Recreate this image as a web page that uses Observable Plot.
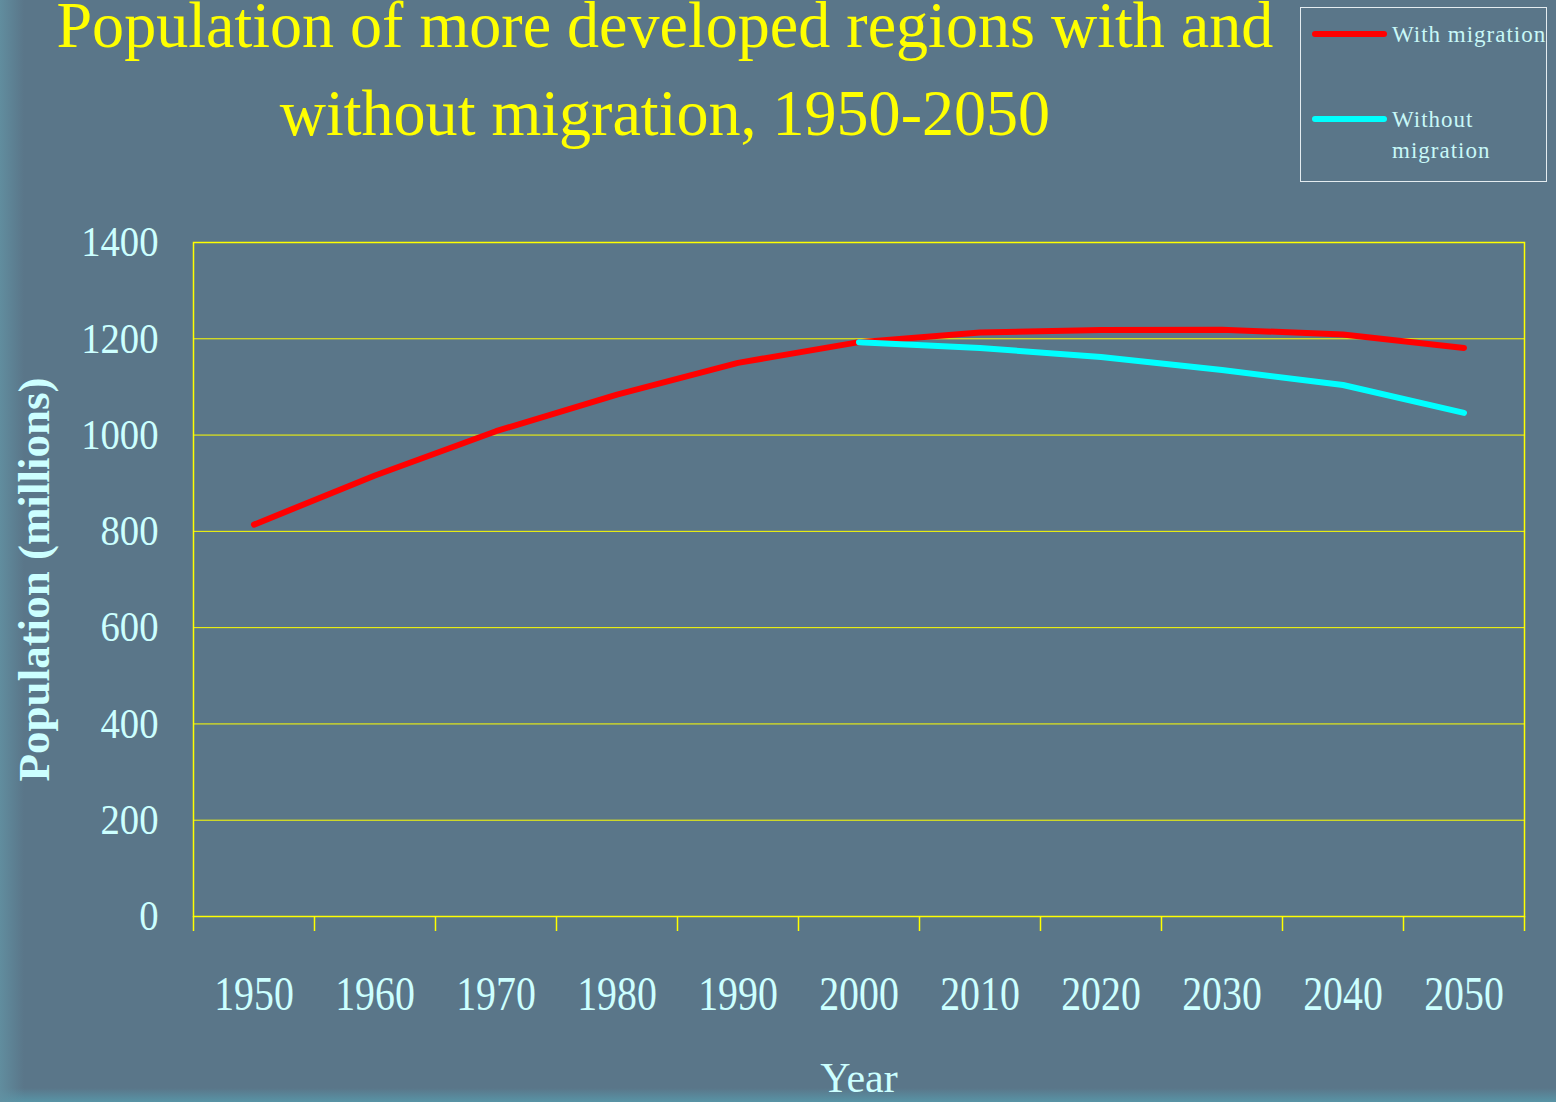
<!DOCTYPE html>
<html><head><meta charset="utf-8">
<script src="https://cdn.jsdelivr.net/npm/d3@7"></script>
<script src="https://cdn.jsdelivr.net/npm/@observablehq/plot@0.6"></script>
<style>
html,body{margin:0;padding:0;}
body{width:1556px;height:1102px;overflow:hidden;position:relative;background:#5a7689;font-family:"Liberation Serif","Times New Roman",serif;}
#bg{position:absolute;left:0;top:0;width:1556px;height:1102px;
  background:linear-gradient(to right, rgba(98,145,162,0.85) 0px, rgba(98,145,162,0) 24px),
             linear-gradient(to top, rgba(88,150,168,0.95) 0px, rgba(88,150,168,0) 14px);}
#title{position:absolute;left:0;top:-19px;width:1330px;text-align:center;color:#ffff00;font-size:66px;line-height:88px;white-space:nowrap;}
#title span{display:inline-block;transform-origin:center;}
#legend{position:absolute;left:1300px;top:7px;width:245px;height:173px;border:1px solid #e4ecf0;}
.lg-line{position:absolute;left:11px;width:75px;height:6px;border-radius:3px;}
.lg-text{position:absolute;left:91px;font-family:"Liberation Serif",serif;font-size:23px;line-height:31px;color:#c8f8f8;letter-spacing:1px;white-space:nowrap;}
#chart{position:absolute;left:0;top:190px;}
</style>
</head><body>
<div id="bg"></div>
<div id="title"><span id="t1">Population of more developed regions with and</span><br><span id="t2">without migration, 1950-2050</span></div>
<div id="legend"></div>
<div id="chart"></div>
<script>
const years = [1950,1960,1970,1980,1990,2000,2010,2020,2030,2040,2050];
const withMigration = [814,916,1008,1084,1150,1193,1213,1218,1219,1209,1181];
const projectionYears = [2000,2010,2020,2030,2040,2050];
const withoutMigration = [1193,1181,1162,1135,1104,1046];
const yTicks = [0,200,400,600,800,1000,1200,1400];
const gridValues = [200,400,600,800,1000,1200];
const bandEdges = [1945,1955,1965,1975,1985,1995,2005,2015,2025,2035,2045,2055];
const seriesNames = ["With migration","Without migration"];
const seriesColors = ["#ff0000","#00ffff"];
const legendLabels = [["With migration"],["Without","migration"]];

const rows = [
  ...years.map((yr,i)=>({year:yr,value:withMigration[i],series:seriesNames[0]})),
  ...projectionYears.map((yr,i)=>({year:yr,value:withoutMigration[i],series:seriesNames[1]}))
];

const chart = Plot.plot({
  width:1556, height:912,
  marginLeft:193, marginRight:32, marginTop:52, marginBottom:186,
  style:{background:"transparent", fontFamily:'"Liberation Serif","Times New Roman",serif', color:"#ccffff", overflow:"visible"},
  x:{domain:[bandEdges[0], bandEdges[bandEdges.length-1]]},
  y:{domain:[yTicks[0], yTicks[yTicks.length-1]]},
  color:{domain:seriesNames, range:seriesColors},
  marks:[
    Plot.gridY(gridValues,{stroke:"#ffff00",strokeOpacity:1,strokeWidth:1}),
    Plot.frame({stroke:"#ffff00",strokeWidth:1.5}),
    Plot.axisX(bandEdges,{tickSize:15,tickFormat:()=>"",stroke:"#ffff00",strokeWidth:1.5,strokeOpacity:1,label:null}),
    Plot.axisX(years,{tickSize:0,tickPadding:59,tickFormat:d=>String(d),fontSize:48,fill:"#ccffff",label:null}),
    Plot.axisY(yTicks,{tickSize:0,tickPadding:35,tickFormat:d=>String(d),fontSize:43,fill:"#ccffff",label:null}),
    Plot.line(rows,{x:"year",y:"value",z:"series",stroke:"series",strokeWidth:6,strokeLinecap:"round",strokeLinejoin:"round"}),
    Plot.text(["Population (millions)"],{frameAnchor:"left",textAnchor:"middle",dx:-159,rotate:-90,fontSize:45,fontWeight:"bold",fill:"#ccffff"}),
    Plot.text(["Year"],{frameAnchor:"bottom",dy:175,fontSize:42,fill:"#ccffff"})
  ]
});
document.getElementById("chart").appendChild(chart);

// horizontal compression of tick labels (slide text is condensed)
chart.querySelectorAll('g[aria-label="x-axis tick label"] text').forEach(el=>{
  el.setAttribute("transform",(el.getAttribute("transform")||"")+" scale(0.83,1)");
});
chart.querySelectorAll('g[aria-label="y-axis tick label"] text').forEach(el=>{
  el.setAttribute("transform",(el.getAttribute("transform")||"")+" scale(0.9,1)");
});

// title compression
const t1 = document.getElementById("t1"), t2 = document.getElementById("t2");
const s = 1217 / t1.offsetWidth;
t1.style.transform = `scaleX(${s})`;
t2.style.transform = `scaleX(${s})`;

// legend
const legend = document.getElementById("legend");
const lineTops = [23,108];
const textTops = [11,96];
seriesNames.forEach((name,i)=>{
  const ln = document.createElement("div");
  ln.className = "lg-line";
  ln.style.top = lineTops[i]+"px";
  ln.style.background = seriesColors[i];
  legend.appendChild(ln);
  const tx = document.createElement("div");
  tx.className = "lg-text";
  tx.style.top = textTops[i]+"px";
  tx.innerHTML = legendLabels[i].join("<br>");
  legend.appendChild(tx);
});
</script>
</body></html>
